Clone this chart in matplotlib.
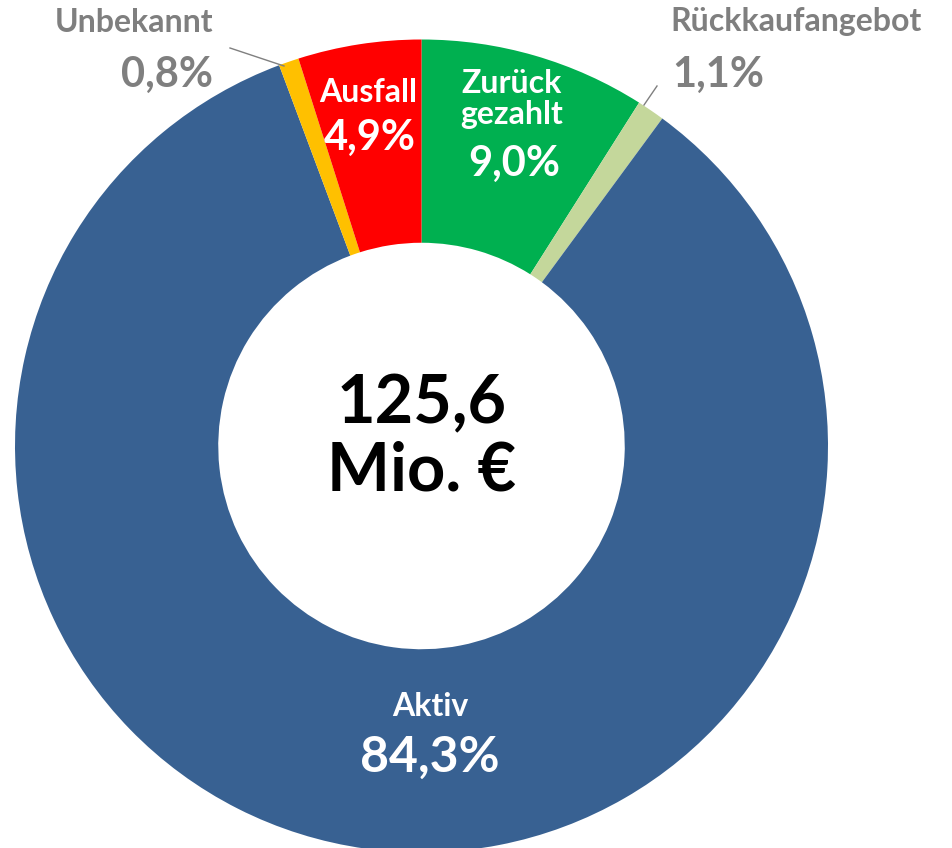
import matplotlib.pyplot as plt

# Anteile am Volumen (im Uhrzeigersinn ab 12 Uhr)
labels = ['Zurück\ngezahlt', 'Rückkaufangebot', 'Aktiv', 'Unbekannt', 'Ausfall']
anteile = [9.0, 1.1, 84.3, 0.8, 4.9]
farben = ['#00B050', '#C4D79B', '#386192', '#FFC000', '#FF0000']
prozent = ['9,0%', '1,1%', '84,3%', '0,8%', '4,9%']
gesamt = '125,6\nMio. €'

W, H = 952, 848
fig = plt.figure(figsize=(W / 100, H / 100), dpi=100)
ax = fig.add_axes([0, 0, 1, 1])
ax.set_xlim(0, W)
ax.set_ylim(0, H)
ax.set_aspect('equal')
ax.axis('off')


def py(y):
    # Pixelkoordinate von oben -> Datenkoordinate
    return H - y


cx, cy, r = 421.5, 446, 406.5
ax.pie(anteile, colors=farben, startangle=90, counterclock=False,
       center=(cx, py(cy)), radius=r,
       wedgeprops=dict(width=r * 0.5, linewidth=0))
ax.set_xlim(0, W)
ax.set_ylim(0, H)

schrift = 'Lato'
grau = '#7F7F7F'

# Mitte
ax.text(cx, py(438), gesamt, ha='center', va='center', fontsize=48,
        fontweight='bold', family=schrift, linespacing=1.1, color='black')

# Innenbeschriftungen
ax.text(512, py(99), labels[0], ha='center', va='center', fontsize=23,
        fontweight='bold', color='white', family=schrift, linespacing=1.12)
ax.text(514, py(164), prozent[0], ha='center', va='center', fontsize=30,
        fontweight='bold', color='white', family=schrift)
ax.text(368, py(92), labels[4], ha='center', va='center', fontsize=23,
        fontweight='bold', color='white', family=schrift)
ax.text(370, py(138), prozent[4], ha='center', va='center', fontsize=30,
        fontweight='bold', color='white', family=schrift)
ax.text(430, py(707), labels[2], ha='center', va='center', fontsize=23,
        fontweight='bold', color='white', family=schrift)
ax.text(430, py(757), prozent[2], ha='center', va='center', fontsize=36,
        fontweight='bold', color='white', family=schrift)

# Außenbeschriftungen mit Führungslinien
ax.text(213, py(22), labels[3], ha='right', va='center', fontsize=23,
        fontweight='bold', color=grau, family=schrift)
ax.text(213, py(75), prozent[3], ha='right', va='center', fontsize=30,
        fontweight='bold', color=grau, family=schrift)
ax.plot([230, 284], [py(48), py(66)], color=grau, lw=1)

ax.text(670, py(22), labels[1], ha='left', va='center', fontsize=23,
        fontweight='bold', color=grau, family=schrift)
ax.text(672, py(75), prozent[1], ha='left', va='center', fontsize=30,
        fontweight='bold', color=grau, family=schrift)
ax.plot([657, 644], [py(86), py(105)], color=grau, lw=1)

fig.savefig('out.png', dpi=100)
